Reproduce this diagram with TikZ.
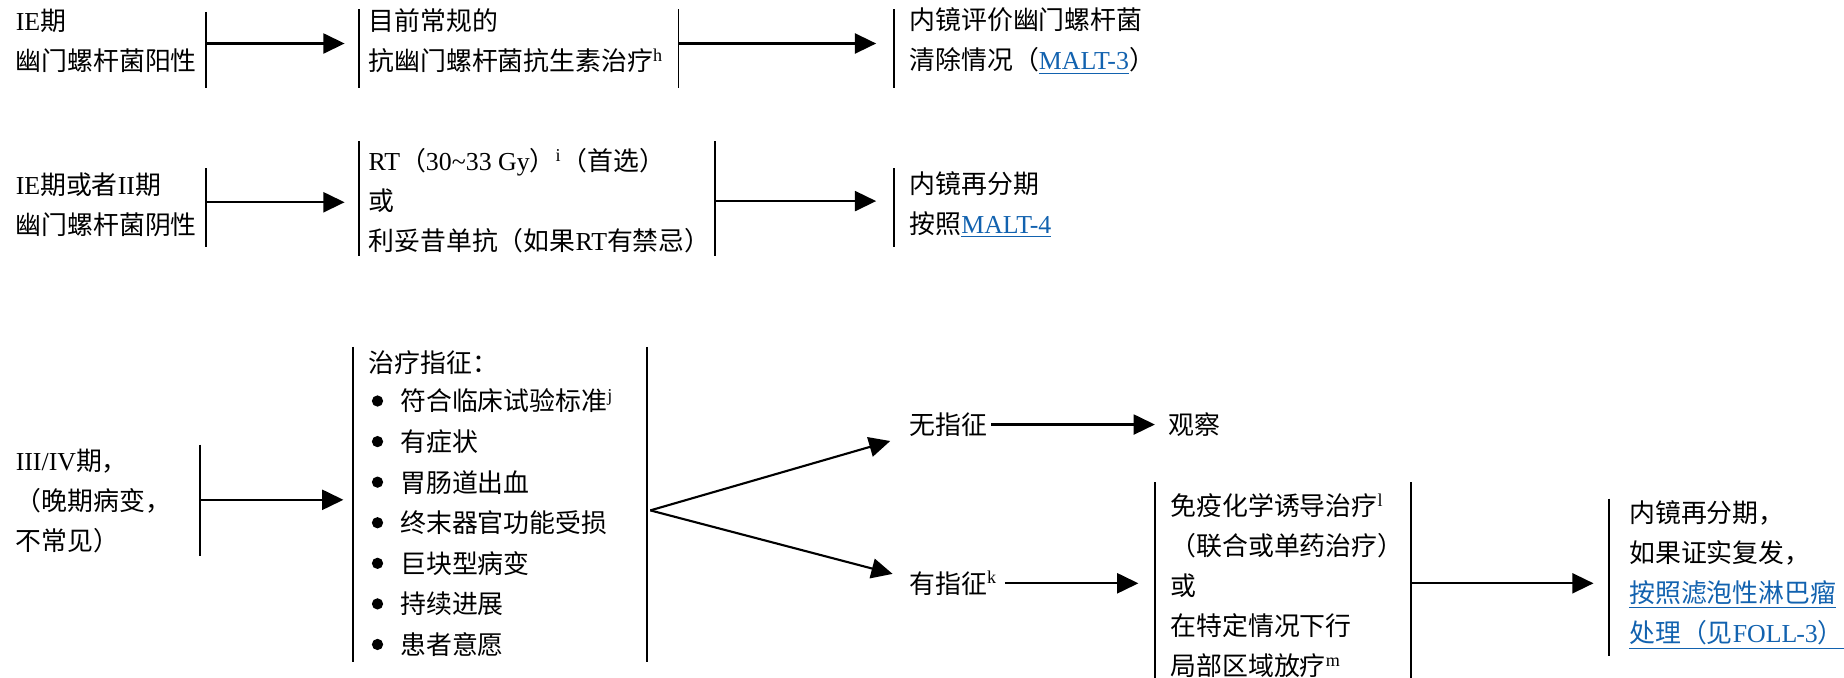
\documentclass[tikz,border=0pt]{standalone}
\usepackage{fontspec}
\usetikzlibrary{arrows.meta}
\setmainfont{Liberation Serif}
\newfontfamily\cjk{Noto Sans CJK SC}
\definecolor{linkblue}{RGB}{18,98,175}

% switch to the CJK font for Han characters and full-width punctuation
\XeTeXinterchartokenstate=1
\newXeTeXintercharclass\hanclass
\count255="3000
\loop\ifnum\count255<"A000
  \XeTeXcharclass\count255=\hanclass
  \advance\count255 by 1
\repeat
\count255="FF00
\loop\ifnum\count255<"FFF0
  \XeTeXcharclass\count255=\hanclass
  \advance\count255 by 1
\repeat
\XeTeXinterchartoks 0 \hanclass = {\cjk}
\XeTeXinterchartoks 4095 \hanclass = {\cjk}
\XeTeXinterchartoks \hanclass 0 = {\rmfamily}
\XeTeXinterchartoks 4095 0 = {\rmfamily}

\newcommand{\lnk}[1]{\textcolor{linkblue}{\underline{#1}}}

\begin{document}
\begin{tikzpicture}[x=0.5pt, y=-0.5pt,
  txt/.style={align=left, anchor=west, inner sep=0pt, font=\fontsize{11pt}{17pt}\selectfont},
  bar/.style={line width=0.75pt},
  arr/.style={line width=0.9pt, -{Triangle[length=9pt,width=8.5pt]}}]

  \useasboundingbox (0,0) rectangle (1568,576.5);

%row 1
  \node[txt] (hpos) at (13,35) {IE期\\幽门螺杆菌阳性};
  \node[txt] (abx) at (313,35) {目前常规的\\抗幽门螺杆菌抗生素治疗\textsuperscript{h}};
  \node[txt] (eval) at (773,35) {内镜评价幽门螺杆菌\\清除情况（\lnk{MALT-3}）};

%row 2
  \node[txt] (hneg) at (13,174) {IE期或者II期\\幽门螺杆菌阴性};
  \node[txt] (rt) at (313,171) {RT（30\textasciitilde33 Gy）\textsuperscript{i}（首选）\\或\\利妥昔单抗（如果RT有禁忌）};
  \node[txt] (restage) at (773,174) {内镜再分期\\按照\lnk{MALT-4}};

%row 3
  \node[txt] (adv) at (13,426) {III/IV期，\\（晚期病变，\\不常见）};
  \node[txt] (ind) at (313,308) {治疗指征：};
  \foreach \i/\txt in {0/符合临床试验标准\textsuperscript{j}, 1/有症状, 2/胃肠道出血, 3/终末器官功能受损, 4/巨块型病变, 5/持续进展, 6/患者意愿} {
    \fill (321,341+34.5*\i) circle (4.8);
    \node[txt] (item\i) at (340,341+34.5*\i) {\txt};
  }

  \node[txt] (noind) at (773,361) {无指征};
  \node[txt] (obs) at (993,361) {观察};
  \node[txt] (yesind) at (773,496) {有指征\textsuperscript{k}};
  \node[txt] (chemo) at (995,498) {免疫化学诱导治疗\textsuperscript{l}\\（联合或单药治疗）\\或\\在特定情况下行\\局部区域放疗\textsuperscript{m}};
  \node[txt] (relapse) at (1385,489) {内镜再分期，\\如果证实复发，\\\lnk{按照滤泡性淋巴瘤}\\\lnk{处理（见FOLL\kern-0.5pt-3）}};

%bars
  \foreach \x/\ya/\yb in {175/10/75, 305/8/75, 577/8/75, 760/8/75,
      175/143/210, 305/120/218, 608/120/218, 760/143/210,
      170/378/473, 300/295/563, 550/295/563, 982/410/577, 1200/410/577, 1368/424/558}
    \draw[bar] (\x,\ya) -- (\x,\yb);

%arrows
  \foreach \n/\xa/\xb/\y in {1/175/293/37, 2/577/745/37, 3/175/293/172, 4/608/745/171, 5/170/292/425, 8/1200/1355/496} {
    \coordinate (from\n) at (\xa,\y);
    \coordinate (to\n) at (\xb,\y);
    \draw[arr] (from\n) -- (to\n);
  }
  \coordinate (fork) at (553,434);
  \coordinate (up) at (757,375);
  \coordinate (down) at (759,488);
  \coordinate (to7) at (968,496);
  \draw[arr] (fork) -- (up);
  \draw[arr] (fork) -- (down);
  \draw[arr, shorten <=1.5pt, shorten >=5.5pt] (noind.east) -- (obs.west);
  \draw[arr, shorten <=3pt] (yesind.east) -- (to7);

\end{tikzpicture}
\end{document}
